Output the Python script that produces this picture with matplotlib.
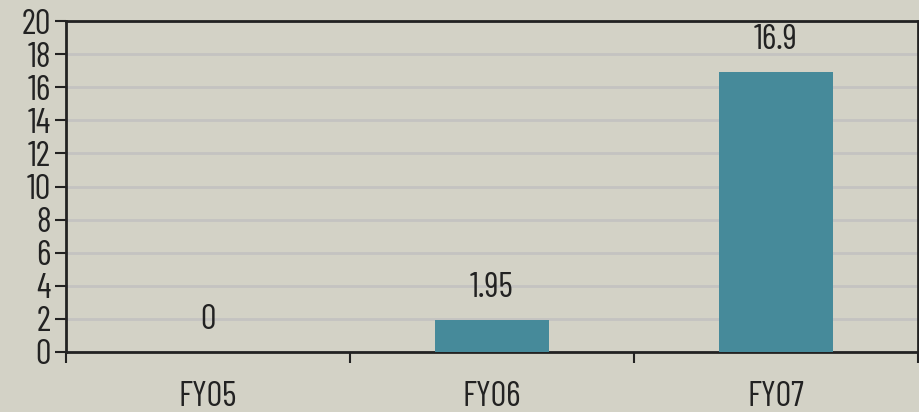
import matplotlib
matplotlib.use('Agg')
import matplotlib.pyplot as plt

categories = ['FY05', 'FY06', 'FY07']
values = [0, 1.95, 16.9]
labels = ['0', '1.95', '16.9']

bg = '#d3d2c6'
bar_color = '#468a9a'
text_color = '#222222'

plt.rcParams['font.family'] = ['Barlow Condensed', 'Asap Condensed', 'DejaVu Sans']

fig = plt.figure(figsize=(9.2, 4.12), dpi=100, facecolor=bg)
ax = fig.add_axes([66 / 920, 60 / 412, 852 / 920, 331 / 412])
ax.set_facecolor(bg)

x = list(range(len(categories)))
ax.bar(x, values, width=0.4, color=bar_color, zorder=3)

# value labels above the bars
for xi, v, lab in zip(x, values, labels):
    ax.annotate(lab, (xi, v), xytext=(0, 23), textcoords='offset points',
                ha='center', va='center', fontsize=25, color=text_color)

ax.set_xlim(-0.5, 2.5)
ax.set_ylim(0, 20)
ax.set_yticks(range(0, 21, 2))
ax.yaxis.grid(True, color='#c4c3c1', linewidth=2, zorder=0)
ax.set_axisbelow(True)

# boundary ticks on major, category names on minor
ax.set_xticks([-0.5, 0.5, 1.5, 2.5])
ax.set_xticklabels([])
ax.set_xticks(x, minor=True)
ax.set_xticklabels(categories, minor=True)
ax.tick_params(axis='x', which='minor', length=0, pad=21, labelsize=25, labelcolor=text_color)
ax.tick_params(axis='x', which='major', direction='out', length=8, width=1.5, color=text_color)
ax.tick_params(axis='y', direction='out', length=8, width=1.5, color=text_color,
               labelsize=25, labelcolor=text_color, pad=3)

for side in ['left', 'bottom', 'top', 'right']:
    ax.spines[side].set_color(text_color)
    ax.spines[side].set_linewidth(2)

fig.savefig('out.png', dpi=100, facecolor=bg)
